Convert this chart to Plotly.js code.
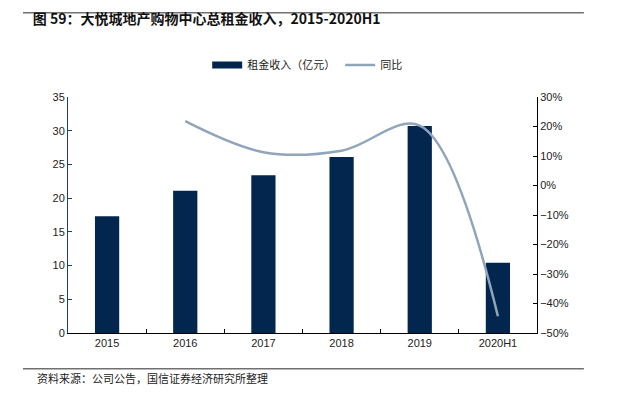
<!DOCTYPE html>
<html>
<head>
<meta charset="utf-8">
<script src="https://cdn.plot.ly/plotly-3.0.1.min.js"></script>
<style>html,body{margin:0;padding:0;background:#fff;}#chart{width:619px;height:397px;}</style>
</head>
<body>
<div id="chart"></div>
<script>
const categories = ['2015', '2016', '2017', '2018', '2019', '2020H1'];
const rentIncome = [17.3, 21.1, 23.4, 26.1, 30.7, 10.4];
const yoyGrowth = [null, 21.8, 11.3, 11.8, 20.3, -44.3];
const barName = '租金收入（亿元）';
const lineName = '同比';

const navy = '#03264f';
const lineColor = '#8fa5ba';
const fontLatin = 'Liberation Sans, Arial, Noto Sans CJK SC, sans-serif';
const fontCJK = 'Noto Sans CJK SC, Liberation Sans, sans-serif';

const traces = [
  {
    type: 'bar', x: categories, y: rentIncome, name: barName,
    marker: {color: navy}, width: 0.31, showlegend: false, yaxis: 'y'
  },
  {
    type: 'scatter', mode: 'lines', x: [categories[0]], y: [null], name: barName,
    line: {color: navy, width: 7}, showlegend: true, yaxis: 'y', hoverinfo: 'skip'
  },
  {
    type: 'scatter', mode: 'lines', x: categories, y: yoyGrowth, name: lineName,
    line: {color: lineColor, width: 2.5, shape: 'spline', smoothing: 1},
    connectgaps: false, yaxis: 'y2', showlegend: true
  }
];

const layout = {
  width: 619, height: 397,
  margin: {l: 68, r: 82, t: 97, b: 64},
  paper_bgcolor: '#fff', plot_bgcolor: '#fff',
  showlegend: true,
  title: {
    text: '<b>图 59：大悦城地产购物中心总租金收入，2015-2020H1</b>',
    font: {family: fontCJK, size: 14, color: '#111'},
    xref: 'container', yref: 'container', x: 0.053, xanchor: 'left', y: 0.952, yanchor: 'middle'
  },
  legend: {
    orientation: 'h', x: 0.51, xanchor: 'center', y: 1.136, yanchor: 'middle',
    font: {family: fontCJK, size: 11, color: '#222'}, bgcolor: 'rgba(0,0,0,0)',
    traceorder: 'normal'
  },
  xaxis: {
    type: 'category', showgrid: false, zeroline: false,
    showline: true, linecolor: '#000', linewidth: 1,
    ticks: 'inside', tickson: 'boundaries', ticklen: 4, tickcolor: '#000',
    tickfont: {family: fontLatin, size: 11, color: '#222'}
  },
  yaxis: {
    range: [0, 35], dtick: 5, showgrid: false, zeroline: false,
    showline: true, linecolor: '#1d3f73', linewidth: 1,
    ticks: 'inside', ticklen: 4, tickcolor: '#1d3f73',
    tickfont: {family: fontLatin, size: 11, color: '#222'}
  },
  yaxis2: {
    overlaying: 'y', side: 'right', range: [-50, 30], dtick: 10, ticksuffix: '%',
    showgrid: false, zeroline: false,
    showline: true, linecolor: '#000', linewidth: 1,
    ticks: 'inside', ticklen: 4, tickcolor: '#000',
    tickfont: {family: fontLatin, size: 11, color: '#222'}
  },
  shapes: [
    {type: 'line', xref: 'paper', yref: 'paper', x0: -0.096, x1: 1.100, y0: 1.357, y1: 1.357,
     line: {color: '#707070', width: 1.5}},
    {type: 'line', xref: 'paper', yref: 'paper', x0: -0.096, x1: 1.100, y0: -0.151, y1: -0.151,
     line: {color: '#707070', width: 1.5}}
  ],
  annotations: [
    {text: '资料来源：公司公告，国信证券经济研究所整理', xref: 'paper', yref: 'paper',
     x: -0.0704, y: -0.191, xanchor: 'left', yanchor: 'middle', showarrow: false,
     font: {family: fontCJK, size: 11, color: '#222'}}
  ]
};

Plotly.newPlot('chart', traces, layout, {displayModeBar: false, staticPlot: true});
</script>
</body>
</html>
